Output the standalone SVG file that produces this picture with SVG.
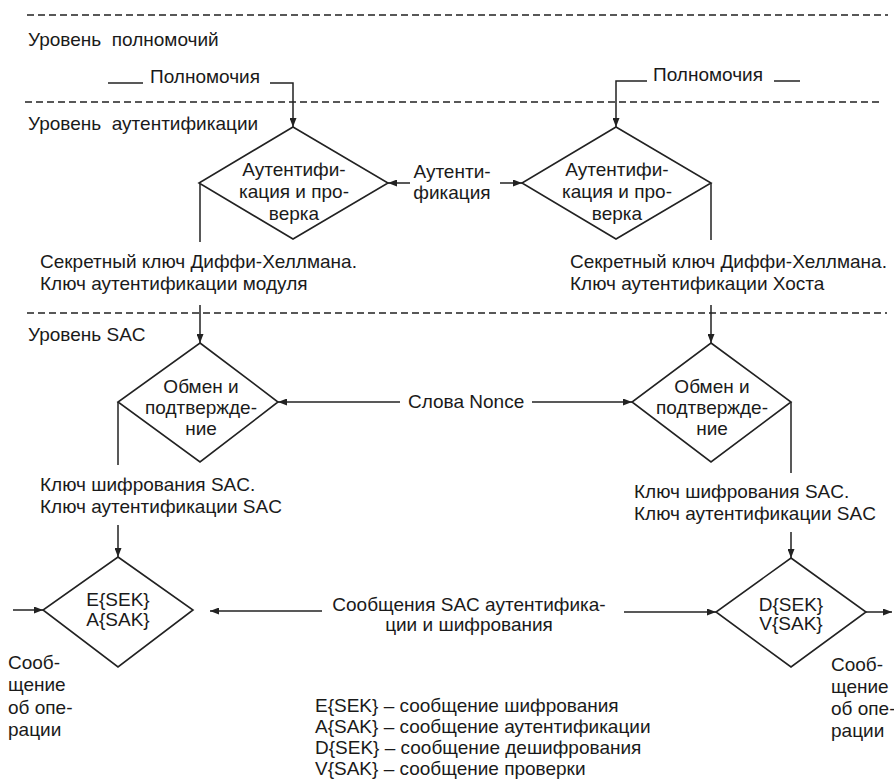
<svg xmlns="http://www.w3.org/2000/svg" width="894" height="782" viewBox="0 0 894 782">
<style>
text{font-family:"Liberation Sans",Arial,sans-serif;font-size:19px;fill:#1a1a1a}
.c{text-anchor:middle}
.dash{stroke:#222;stroke-width:1.5;stroke-dasharray:7 4;fill:none}
.ln{stroke:#222;stroke-width:1.5;fill:none}
.arr{stroke:#222;stroke-width:1.5;fill:none;marker-end:url(#ah)}
.dia{fill:#fff;stroke:#222;stroke-width:1.6}
</style>
<defs>
<marker id="ah" markerUnits="userSpaceOnUse" markerWidth="9" markerHeight="7" refX="9" refY="3.5" orient="auto">
<path d="M0,0 L9,3.5 L0,7 z" fill="#222"/>
</marker>
</defs>
<rect width="894" height="782" fill="#fff"/>

<g id="levels">
<line class="dash" x1="27" y1="15" x2="888" y2="15"/>
<line class="dash" x1="25" y1="102" x2="882" y2="102"/>
<line class="dash" x1="27" y1="313" x2="887" y2="313"/>
<text x="28" y="46" xml:space="preserve">Уровень  полномочий</text>
<text x="28" y="130" xml:space="preserve">Уровень  аутентификации</text>
<text x="28" y="341">Уровень SAC</text>
</g>

<g id="connectors">
<line class="ln" x1="108" y1="83" x2="143" y2="83"/>
<polyline class="arr" points="270,83 293,83 293,127"/>
<polyline class="arr" points="647,81 616,81 616,127"/>
<line class="ln" x1="774" y1="81" x2="800" y2="81"/>
<line class="arr" x1="410" y1="183" x2="388" y2="183"/>
<line class="arr" x1="500" y1="183" x2="522" y2="183"/>
<line class="ln" x1="200" y1="183" x2="200" y2="242"/>
<line class="arr" x1="200" y1="305" x2="200" y2="343"/>
<line class="ln" x1="711" y1="183" x2="711" y2="240"/>
<line class="arr" x1="711" y1="305" x2="711" y2="343"/>
<line class="arr" x1="400" y1="402" x2="278" y2="402"/>
<line class="arr" x1="532" y1="402" x2="632" y2="402"/>
<line class="ln" x1="118" y1="402" x2="118" y2="465"/>
<line class="arr" x1="118" y1="525" x2="118" y2="557"/>
<line class="ln" x1="791" y1="402" x2="791" y2="473"/>
<line class="arr" x1="791" y1="532" x2="791" y2="558"/>
<line class="arr" x1="13" y1="610" x2="43" y2="610"/>
<line class="arr" x1="322" y1="611" x2="210" y2="611"/>
<line class="arr" x1="624" y1="612" x2="716" y2="612"/>
<line class="arr" x1="866" y1="612" x2="892" y2="612"/>
</g>

<g id="labels">
<text x="150" y="83">Полномочия</text>
<text x="653" y="81">Полномочия</text>
<text class="c" x="452" y="178">Аутенти-</text>
<text class="c" x="452" y="199">фикация</text>
<text x="40" y="268">Секретный ключ Диффи-Хеллмана.</text>
<text x="40" y="290">Ключ аутентификации модуля</text>
<text x="570" y="268">Секретный ключ Диффи-Хеллмана.</text>
<text x="570" y="290">Ключ аутентификации Хоста</text>
<text x="408" y="408">Слова Nonce</text>
<text x="40" y="491">Ключ шифрования SAC.</text>
<text x="40" y="513">Ключ аутентификации SAC</text>
<text x="634" y="498">Ключ шифрования SAC.</text>
<text x="634" y="520">Ключ аутентификации SAC</text>
<text class="c" x="469" y="611">Сообщения SAC аутентифика-</text>
<text class="c" x="469" y="631">ции и шифрования</text>
<text x="8" y="669">Сооб-</text>
<text x="8" y="691">щение</text>
<text x="8" y="714">об опе-</text>
<text x="8" y="736">рации</text>
<text x="831" y="671">Сооб-</text>
<text x="831" y="693">щение</text>
<text x="831" y="715">об опе-</text>
<text x="831" y="737">рации</text>
</g>

<g id="legend">
<text x="315" y="712">E{SEK} – сообщение шифрования</text>
<text x="315" y="733">A{SAK} – сообщение аутентификации</text>
<text x="315" y="754">D{SEK} – сообщение дешифрования</text>
<text x="315" y="775">V{SAK} – сообщение проверки</text>
</g>

<g id="auth-left">
<polygon class="dia" points="293,127 388,183 293,239 199,183"/>
<text class="c" x="294" y="176">Аутентифи-</text>
<text class="c" x="294" y="198">кация и про-</text>
<text class="c" x="294" y="220">верка</text>
</g>

<g id="auth-right">
<polygon class="dia" points="616,127 711,183 616,239 522,183"/>
<text class="c" x="617" y="176">Аутентифи-</text>
<text class="c" x="617" y="198">кация и про-</text>
<text class="c" x="617" y="220">верка</text>
</g>

<g id="exchange-left">
<polygon class="dia" points="200,343 278,402 200,462 118,402"/>
<text class="c" x="201" y="393">Обмен и</text>
<text class="c" x="201" y="414">подтвержде-</text>
<text class="c" x="201" y="435">ние</text>
</g>

<g id="exchange-right">
<polygon class="dia" points="711,343 791,402 711,462 632,402"/>
<text class="c" x="712" y="393">Обмен и</text>
<text class="c" x="712" y="414">подтвержде-</text>
<text class="c" x="712" y="435">ние</text>
</g>

<g id="encrypt">
<polygon class="dia" points="118,557 193,610 118,667 43,610"/>
<text class="c" x="118" y="606">E{SEK}</text>
<text class="c" x="118" y="626">A{SAK}</text>
</g>

<g id="decrypt">
<polygon class="dia" points="791,558 866,612 791,667 716,612"/>
<text class="c" x="791" y="611">D{SEK}</text>
<text class="c" x="791" y="630">V{SAK}</text>
</g>
</svg>
